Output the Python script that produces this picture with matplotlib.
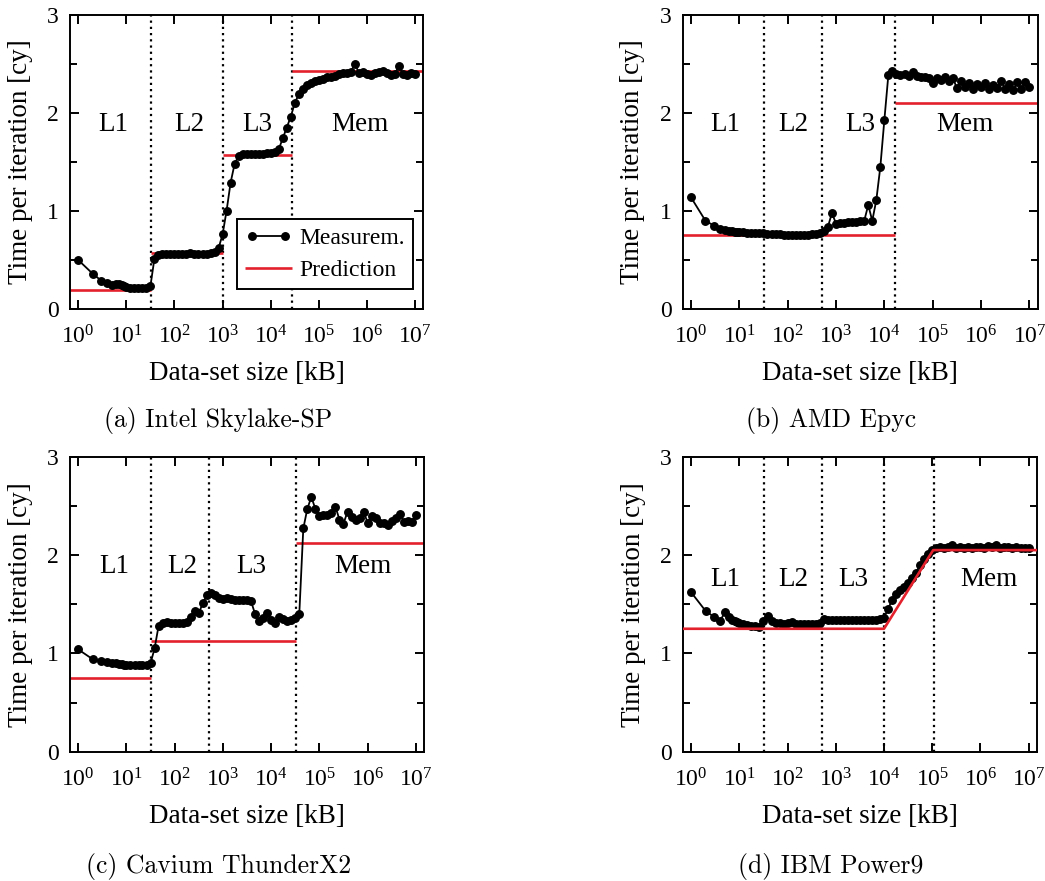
import matplotlib
matplotlib.use("Agg")
import matplotlib.pyplot as plt
from matplotlib.ticker import FixedLocator, FixedFormatter, NullLocator

# ---------------- data ----------------
sizes_kb = [1, 2, 3, 4, 5, 6, 7, 8, 9,
            10, 12.1, 14.7, 17.8, 21.5, 26.1, 31.6, 38.3, 46.4, 56.2, 68.1, 82.5,
            100, 121, 147, 178, 215, 261, 316, 383, 464, 562, 681, 825,
            1e3, 1.21e3, 1.47e3, 1.78e3, 2.15e3, 2.61e3, 3.16e3, 3.83e3, 4.64e3, 5.62e3, 6.81e3, 8.25e3,
            1e4, 1.21e4, 1.47e4, 1.78e4, 2.15e4, 2.61e4, 3.16e4, 3.83e4, 4.64e4, 5.62e4, 6.81e4, 8.25e4,
            1e5, 1.21e5, 1.47e5, 1.78e5, 2.15e5, 2.61e5, 3.16e5, 3.83e5, 4.64e5, 5.62e5, 6.81e5, 8.25e5,
            1e6, 1.21e6, 1.47e6, 1.78e6, 2.15e6, 2.61e6, 3.16e6, 3.83e6, 4.64e6, 5.62e6, 6.81e6, 8.25e6,
            1e7]

meas_skylake = [0.50, 0.36, 0.29, 0.26, 0.24, 0.25, 0.25, 0.24, 0.23,
                0.22, 0.215, 0.21, 0.21, 0.21, 0.21, 0.23, 0.51, 0.55, 0.56, 0.56, 0.56,
                0.56, 0.565, 0.56, 0.56, 0.57, 0.56, 0.56, 0.56, 0.565, 0.57, 0.58, 0.62,
                0.76, 1.00, 1.29, 1.48, 1.56, 1.58, 1.585, 1.58, 1.585, 1.58, 1.58, 1.59,
                1.59, 1.60, 1.63, 1.74, 1.85, 1.96, 2.10, 2.19, 2.24, 2.29, 2.31, 2.33,
                2.34, 2.35, 2.37, 2.37, 2.38, 2.40, 2.41, 2.41, 2.42, 2.50, 2.41, 2.42,
                2.40, 2.39, 2.41, 2.42, 2.43, 2.41, 2.39, 2.40, 2.48, 2.40, 2.39, 2.41,
                2.40]

meas_epyc = [1.14, 0.90, 0.85, 0.82, 0.81, 0.80, 0.795, 0.79, 0.79,
             0.785, 0.785, 0.78, 0.78, 0.775, 0.775, 0.775, 0.77, 0.765, 0.76, 0.76, 0.755,
             0.755, 0.755, 0.75, 0.755, 0.755, 0.755, 0.76, 0.77, 0.78, 0.80, 0.84, 0.98,
             0.87, 0.875, 0.88, 0.885, 0.885, 0.89, 0.895, 0.90, 1.06, 0.90, 1.11, 1.45,
             1.93, 2.39, 2.43, 2.40, 2.39, 2.40, 2.38, 2.42, 2.38, 2.37, 2.37, 2.36,
             2.31, 2.36, 2.34, 2.37, 2.33, 2.36, 2.25, 2.33, 2.27, 2.31, 2.24, 2.30,
             2.26, 2.31, 2.24, 2.29, 2.25, 2.33, 2.24, 2.30, 2.23, 2.32, 2.24, 2.32,
             2.27]

meas_thunderx2 = [1.04, 0.94, 0.92, 0.915, 0.90, 0.90, 0.895, 0.89, 0.885,
                  0.885, 0.88, 0.88, 0.88, 0.88, 0.88, 0.90, 1.05, 1.28, 1.31, 1.315, 1.31,
                  1.31, 1.305, 1.31, 1.32, 1.37, 1.43, 1.41, 1.51, 1.59, 1.61, 1.59, 1.56,
                  1.55, 1.56, 1.55, 1.54, 1.545, 1.54, 1.54, 1.53, 1.40, 1.33, 1.36, 1.41,
                  1.34, 1.31, 1.37, 1.35, 1.33, 1.34, 1.36, 1.40, 2.27, 2.47, 2.59, 2.47,
                  2.40, 2.41, 2.41, 2.43, 2.49, 2.36, 2.32, 2.44, 2.39, 2.36, 2.38, 2.44,
                  2.33, 2.40, 2.38, 2.33, 2.33, 2.31, 2.35, 2.38, 2.42, 2.34, 2.35, 2.34,
                  2.41]

meas_power9 = [1.62, 1.43, 1.37, 1.33, 1.42, 1.37, 1.34, 1.33, 1.32,
               1.31, 1.30, 1.29, 1.28, 1.275, 1.27, 1.33, 1.38, 1.33, 1.31, 1.305, 1.30,
               1.305, 1.32, 1.30, 1.30, 1.30, 1.30, 1.30, 1.30, 1.31, 1.35, 1.34, 1.34,
               1.335, 1.335, 1.335, 1.335, 1.335, 1.335, 1.335, 1.34, 1.34, 1.34, 1.34, 1.345,
               1.36, 1.45, 1.54, 1.60, 1.64, 1.67, 1.72, 1.77, 1.82, 1.90, 1.96, 2.01,
               2.05, 2.07, 2.08, 2.07, 2.08, 2.10, 2.07, 2.08, 2.07, 2.08, 2.07, 2.08,
               2.08, 2.07, 2.09, 2.08, 2.10, 2.07, 2.08, 2.08, 2.07, 2.08, 2.07, 2.07,
               2.07]

# cache boundaries [kB]
bounds_skylake = [32, 1000, 28160]
bounds_epyc = [32, 512, 16384]
bounds_thunderx2 = [32, 512, 32768]
bounds_power9 = [32, 512, 10000, 110000]

# step predictions: edges (None = axis limit) and levels
pred_skylake_edges = [None, 32, 1000, 28160, None]
pred_skylake_levels = [0.19, 0.57, 1.57, 2.43]
pred_epyc_edges = [None, 16384, None]
pred_epyc_levels = [0.75, 2.10]
pred_thunderx2_edges = [None, 32, 32768, None]
pred_thunderx2_levels = [0.75, 1.125, 2.125]
# Power9 prediction is a polyline
pred_power9_x = [None, 10000, 105000, None]
pred_power9_y = [1.25, 1.25, 2.05, 2.05]

region_labels = ["L1", "L2", "L3", "Mem"]
label_x_skylake = [5.3, 204, 5250, 7.3e5]
label_x_epyc = [5.1, 132, 3160, 4.6e5]
label_x_thunderx2 = [5.6, 141, 3800, 7.8e5]
label_x_power9 = [5.1, 132, 2340, 1.5e6]
label_y = [1.88, 1.88, 1.88, 1.75]

captions = ["(a) Intel Skylake-SP", "(b) AMD Epyc", "(c) Cavium ThunderX2", "(d) IBM Power9"]
xtick_vals = [1, 10, 100, 1e3, 1e4, 1e5, 1e6, 1e7]
xtick_labels = [r"$\mathregular{10^{%d}}$" % i for i in range(8)]
ytick_vals = [0, 1, 2, 3]
ytick_labels = ["0", "1", "2", "3"]
ytick_minor = [0.5, 1.5, 2.5]

# ---------------- style ----------------
plt.rcParams["font.family"] = ["Liberation Serif", "DejaVu Serif"]
plt.rcParams["mathtext.fontset"] = "custom"
plt.rcParams["mathtext.rm"] = "Liberation Serif"
plt.rcParams["mathtext.it"] = "Liberation Serif:italic"
plt.rcParams["axes.linewidth"] = 1.4

RED = "#e3212d"
XLIM = (10 ** -0.17, 10 ** 7.17)

fig = plt.figure(figsize=(10.45, 8.81), dpi=100)

positions = [
    [0.0670, 0.6493, 0.3380, 0.3337],
    [0.6533, 0.6493, 0.3397, 0.3337],
    [0.0670, 0.1468, 0.3388, 0.3348],
    [0.6536, 0.1468, 0.3385, 0.3348],
]

meas_all = [meas_skylake, meas_epyc, meas_thunderx2, meas_power9]
bounds_all = [bounds_skylake, bounds_epyc, bounds_thunderx2, bounds_power9]
labx_all = [label_x_skylake, label_x_epyc, label_x_thunderx2, label_x_power9]
steps = [(pred_skylake_edges, pred_skylake_levels),
         (pred_epyc_edges, pred_epyc_levels),
         (pred_thunderx2_edges, pred_thunderx2_levels),
         None]

caption_pos = [(218 / 1045, 1 - 421 / 881), (831 / 1045, 1 - 421 / 881),
               (219 / 1045, 1 - 866 / 881), (831 / 1045, 1 - 866 / 881)]


def fill_edges(vals):
    out = []
    for k, v in enumerate(vals):
        if v is None:
            out.append(XLIM[0] if k == 0 else XLIM[1])
        else:
            out.append(v)
    return out


for i in range(4):
    ax = fig.add_axes(positions[i])
    ax.set_xscale("log")
    ax.set_xlim(*XLIM)
    ax.set_ylim(0, 3)

    # cache boundaries
    for b in bounds_all[i]:
        ax.axvline(b, color="black", lw=1.6, ls=(0, (1, 1.8)), zorder=1)

    # prediction
    if steps[i] is not None:
        edges, levels = steps[i]
        e = fill_edges(edges)
        for k, lev in enumerate(levels):
            ax.hlines(lev, e[k], e[k + 1], color=RED, lw=1.9, zorder=2,
                      label="Prediction" if k == 0 else None)
    else:
        px = fill_edges(pred_power9_x)
        ax.plot(px, pred_power9_y, color=RED, lw=1.9, zorder=3, label="Prediction")

    # measurement
    ax.plot(sizes_kb, meas_all[i], "-o", color="black", lw=1.3, ms=5.4,
            zorder=2.5, label="Measurem.")

    # region labels
    for lab, lx in zip(region_labels, labx_all[i]):
        ax.text(lx, label_y[i], lab, ha="center", va="center", fontsize=19.5)

    # ticks
    ax.xaxis.set_major_locator(FixedLocator(xtick_vals))
    ax.xaxis.set_major_formatter(FixedFormatter(xtick_labels))
    ax.xaxis.set_minor_locator(NullLocator())
    ax.yaxis.set_major_locator(FixedLocator(ytick_vals))
    ax.yaxis.set_major_formatter(FixedFormatter(ytick_labels))
    ax.yaxis.set_minor_locator(FixedLocator(ytick_minor))
    ax.tick_params(which="both", direction="in", top=True, right=True, width=1.4)
    ax.tick_params(which="major", length=6.5)
    ax.tick_params(which="minor", length=5)
    ax.tick_params(axis="x", labelsize=17, pad=12)
    ax.tick_params(axis="y", labelsize=17, pad=8)

    ax.set_xlabel("Data-set size [kB]", fontsize=19.5)
    ax.set_ylabel("Time per iteration [cy]", fontsize=19.5)
    ax.xaxis.set_label_coords(0.5, -0.178)
    ax.yaxis.set_label_coords(-0.105, 0.5)

    if i == 0:
        h, l = ax.get_legend_handles_labels()
        order = [l.index("Measurem."), l.index("Prediction")]
        leg = ax.legend([h[o] for o in order], [l[o] for o in order],
                        loc="lower right", bbox_to_anchor=(0.971, 0.067),
                        borderaxespad=0, fancybox=False, framealpha=1,
                        edgecolor="black", fontsize=17, handlelength=2.0,
                        handletextpad=0.3, borderpad=0.35, labelspacing=0.45,
                        numpoints=2)
        leg.get_frame().set_linewidth(1.4)

    fig.text(caption_pos[i][0], caption_pos[i][1], captions[i], ha="center",
             va="center", fontsize=18.5, family=["cmr10", "DejaVu Serif"])

fig.savefig("out.png", dpi=100)
